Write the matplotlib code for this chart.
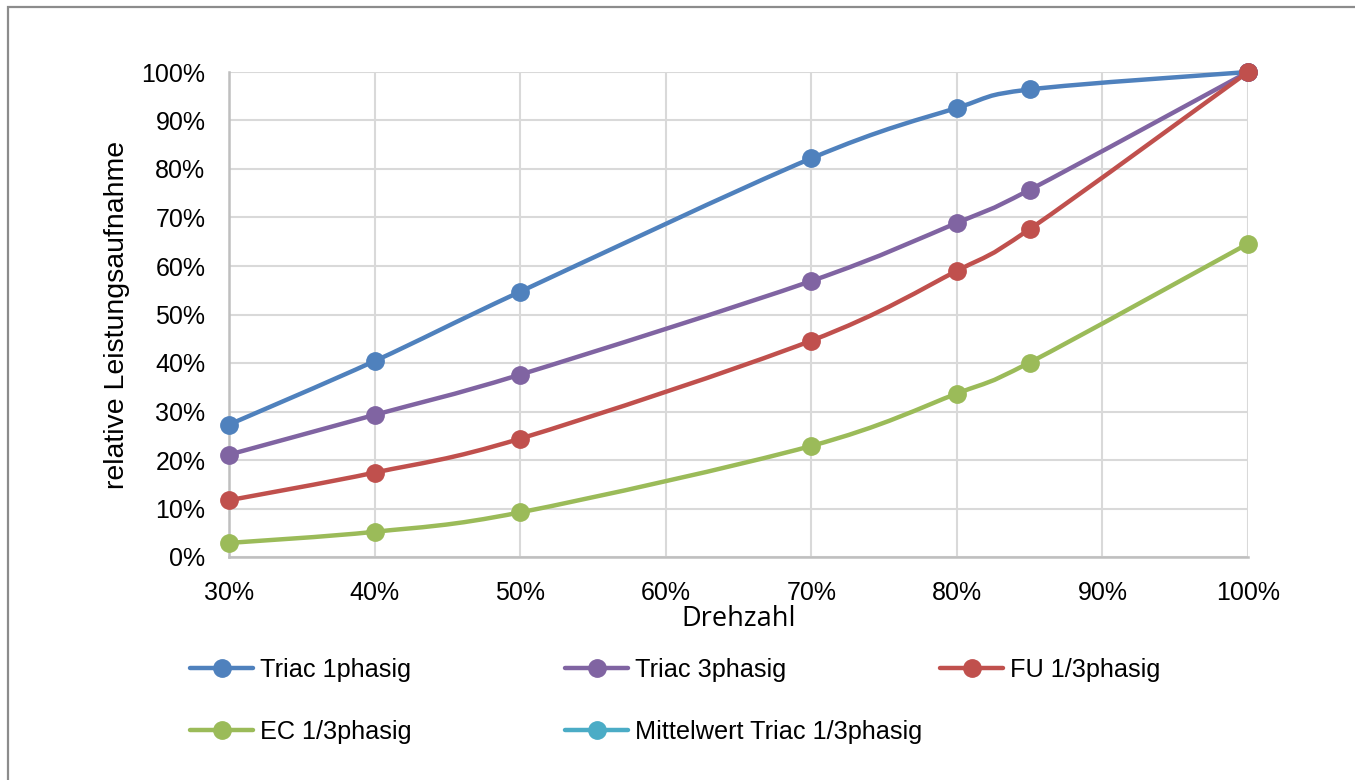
import matplotlib
matplotlib.use("Agg")
import matplotlib.pyplot as plt
from matplotlib.path import Path
from matplotlib.patches import PathPatch, Rectangle
from matplotlib.lines import Line2D
from matplotlib.ticker import FuncFormatter
import numpy as np

# Drehzahl (percent of nominal speed)
drehzahl = [30, 40, 50, 70, 80, 85, 100]

# relative power consumption (percent)
triac_1ph = [27.3, 40.4, 54.7, 82.2, 92.6, 96.4, 100.0]
triac_3ph = [21.1, 29.3, 37.6, 56.9, 68.9, 75.7, 100.0]
fu_13ph = [11.7, 17.4, 24.4, 44.6, 59.0, 67.6, 100.0]
ec_13ph = [2.9, 5.2, 9.2, 22.9, 33.7, 40.1, 64.6]
mittelwert_triac = []

series_names = ["Triac 1phasig", "Triac 3phasig", "FU 1/3phasig",
                "EC 1/3phasig", "Mittelwert Triac 1/3phasig"]
series_values = [triac_1ph, triac_3ph, fu_13ph, ec_13ph, mittelwert_triac]
series_colors = ["#4F81BD", "#8064A2", "#C0504D", "#9BBB59", "#4BACC6"]

x_ticks = [30, 40, 50, 60, 70, 80, 90, 100]
y_ticks = [0, 10, 20, 30, 40, 50, 60, 70, 80, 90, 100]

LW = 3.2
MS = 12.5
ARIAL = "Liberation Sans"


def smooth_path(xs, ys):
    """Cubic Bezier path through the points (Catmull-Rom style tangents)."""
    pts = np.column_stack([xs, ys]).astype(float)
    n = len(pts)
    verts = [pts[0]]
    codes = [Path.MOVETO]
    for i in range(n - 1):
        p0 = pts[i - 1] if i > 0 else pts[i]
        p1 = pts[i]
        p2 = pts[i + 1]
        p3 = pts[i + 2] if i + 2 < n else pts[i + 1]
        c1 = p1 + (p2 - p0) / 6.0
        c2 = p2 - (p3 - p1) / 6.0
        verts += [c1, c2, p2]
        codes += [Path.CURVE4] * 3
    return Path(verts, codes)


fig = plt.figure(figsize=(13.55, 7.8), dpi=100)
W, H = 1355, 780

# outer chart frame
fig.patches.append(Rectangle((8 / W, -0.05), 1.1, 1 - 7 / H + 0.05,
                             transform=fig.transFigure, fill=False,
                             edgecolor="#8C8C8C", linewidth=1.6, zorder=0))

ax = fig.add_axes([229 / W, 1 - 557 / H, (1248 - 229) / W, (557 - 72) / H])
ax.set_xlim(30, 100)
ax.set_ylim(0, 100)
ax.set_xticks(x_ticks)
ax.set_yticks(y_ticks)
pct = FuncFormatter(lambda v, p: f"{v:.0f}%")
ax.xaxis.set_major_formatter(pct)
ax.yaxis.set_major_formatter(pct)
ax.grid(True, color="#D9D9D9", linewidth=1.5)
ax.set_axisbelow(True)
for s in ("top", "right"):
    ax.spines[s].set_visible(False)
for s in ("left", "bottom"):
    ax.spines[s].set_color("#BFBFBF")
    ax.spines[s].set_linewidth(1.8)
ax.tick_params(length=0, labelsize=18)
ax.tick_params(axis="x", pad=17)
ax.tick_params(axis="y", pad=17)
for lab in ax.get_xticklabels() + ax.get_yticklabels():
    lab.set_fontfamily(ARIAL)

handles = []
for name, vals, col in zip(series_names, series_values, series_colors):
    if len(vals) > 1:
        ax.add_patch(PathPatch(smooth_path(drehzahl[:len(vals)], vals),
                               fill=False, edgecolor=col, linewidth=LW,
                               capstyle="round", joinstyle="round",
                               zorder=3, clip_on=False))
    ax.plot(drehzahl[:len(vals)], vals, linestyle="none", marker="o",
            markersize=MS, color=col, zorder=3, clip_on=False)
    handles.append(Line2D([], [], color=col, linewidth=LW, marker="o",
                          markersize=MS, solid_capstyle="round",
                          label=name))

ax.set_ylabel("relative Leistungsaufnahme", fontsize=20.5, family=ARIAL)
ax.yaxis.set_label_coords(-0.097, 0.5)
ax.set_xlabel("Drehzahl", fontsize=19.5, family="Open Sans", labelpad=0)

# legend laid out in three fixed-width columns
columns = [[0, 3], [1, 4], [2]]
col_x = [190, 565, 940]
for cx, idx in zip(col_x, columns):
    leg = fig.legend([handles[i] for i in idx],
                     [series_names[i] for i in idx],
                     loc="upper left", bbox_to_anchor=(cx / W, 1 - 658 / H),
                     frameon=False, prop={"family": ARIAL, "size": 18.2},
                     handlelength=2.5, handletextpad=0.25, labelspacing=1.5,
                     borderpad=0, borderaxespad=0)

fig.savefig("out.png", dpi=100)
